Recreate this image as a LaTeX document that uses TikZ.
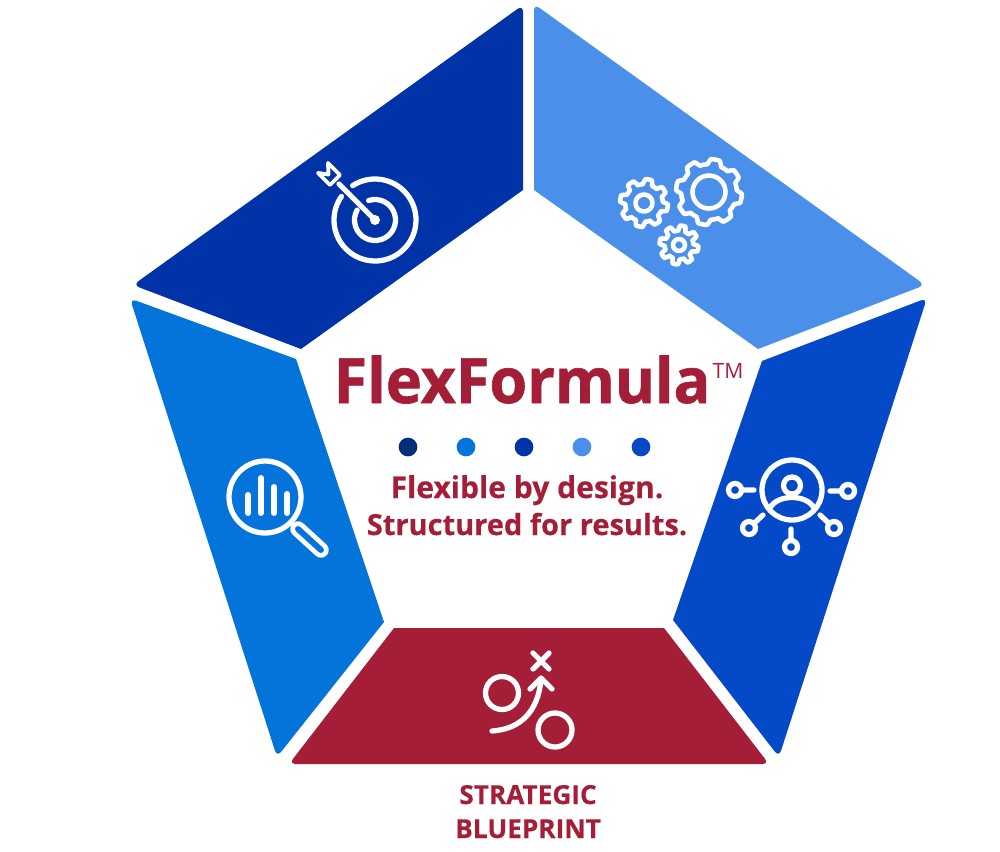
\documentclass[tikz,border=0pt]{standalone}
\usepackage{fontspec}
\usepackage{xcolor}
\usepackage{tikz}
\usetikzlibrary{calc}
\setmainfont{Open Sans}
\newfontfamily\titlefont[FakeStretch = 0.975, BoldFeatures = {FakeBold = 1}]{Open Sans}
\newfontfamily\bodyfont[BoldFeatures = {FakeBold = 0.35}]{Open Sans}
\definecolor{navydot}{HTML}{002E7A}
\definecolor{targetblue}{HTML}{0032A8}
\definecolor{gearblue}{HTML}{4A90EA}
\definecolor{peopleblue}{HTML}{0449C8}
\definecolor{searchblue}{HTML}{0474DB}
\definecolor{flexred}{HTML}{A51E38}
\tikzset{
 tipround/.style = {rounded corners = 1.9pt},
 icon/.style = {draw = white, line width = 1.5pt, line cap = round, line join = round},
 titletext/.style = {text = flexred, inner sep = 0pt, anchor = base},
 dot/.style = {circle, inner sep = 0pt, minimum size = 1.87mm},
}
\newcommand{\gearicon}[5]{
 \draw [icon, line width = 1.3pt, shift = {(#1, #2)}, domain = 0:360, samples = 241]
  plot ({(#3 - 2.6 + 2.6 * max(min(2.2 * sin(#5 * \x), 1), -1)) * cos(\x)},
        {(#3 - 2.6 + 2.6 * max(min(2.2 * sin(#5 * \x), 1), -1)) * sin(\x)}) -- cycle;
 \draw [icon, line width = 1.3pt] (#1, #2) circle (#4);
}
\begin{document}
\begin{tikzpicture}[x = 0.01cm, y = -0.01cm]
 \useasboundingbox (0, 0) rectangle (1000, 851);
 % wedges
 \fill [targetblue] (523, 190) -- (301, 349) [tipround] -- (133, 285) -- (523, 5) [sharp corners] -- cycle;
 \fill [gearblue] (534, 190) [tipround] -- (534, 4) -- (925, 285) [sharp corners] -- (758, 349) -- cycle;
 \fill [peopleblue] (762, 361) [tipround] -- (927, 298) -- (779, 757) [sharp corners] -- (673, 620) -- cycle;
 \fill [flexred] (394, 628) -- (664, 628) [tipround] -- (769, 764) -- (289, 764) [sharp corners] -- cycle;
 \fill [searchblue] (296, 359) -- (384, 622) [tipround] -- (277, 757) -- (130, 298.5) [sharp corners] -- cycle;
 % target
 \draw [icon] (375, 220) ++(237:41) arc (237:575:41);
 \draw [icon] (375, 220) ++(252:20.5) arc (252:569:20.5);
 \fill [white] (375, 220) circle (5);
 \draw [icon] (375, 220) -- (339, 184);
 \draw [icon, line width = 1.1pt] (328, 163) -- (340, 175) -- (330, 185) -- (318, 173) -- (328.5, 174.5) -- cycle;
 % gears
 \gearicon{709}{192}{33}{16.5}{8}
 \gearicon{644}{203}{24}{8.5}{8}
 \gearicon{679}{245}{19.5}{6}{8}
 % magnifier
 \draw [white, line width = 4.4pt, line cap = round] (298, 529) -- (321, 550);
 \draw [searchblue, line width = 1.7pt, line cap = round] (298, 529) -- (321, 550);
 \draw [icon] (265, 497) circle (36);
 \foreach \barx/\bartop in {248/495, 261/478, 274/487, 287/494}
  \draw [icon, line width = 1.7pt] (\barx, \bartop) -- (\barx, 513);
 % people
 \draw [icon] (792, 490) circle (30);
 \draw [icon] (792, 485.5) circle (8.5);
 \draw [icon] (770, 508) .. controls (777, 494) and (807, 494) .. (814, 508);
 \foreach \tipx/\tipy/\inx/\iny in {735/490/754/490, 848/491/830/491, 749/528/763/515, 834/528/820/515, 791/547/791/529}
  \draw [icon] (\tipx, \tipy) circle (6.5) (\inx, \iny) -- ($(\tipx, \tipy)!0.65mm!(\inx, \iny)$);
 % play
 \draw [icon] (533, 653) -- (549, 669) (549, 653) -- (533, 669);
 \draw [icon] (502, 693) circle (16.5);
 \draw [icon] (555, 730) circle (17);
 \draw [icon] (492, 731) .. controls (522, 729) and (538, 710) .. (541, 680);
 \draw [icon] (530, 689) -- (541, 678) -- (552, 689);
 % text
 \node [titletext, anchor = base west, font = \titlefont\bfseries\fontsize{17.8}{20}\selectfont] (title) at (333, 403) {FlexFormula};
 \node [titletext, anchor = base west, font = \fontsize{6}{7}\selectfont] (trademark) at (712, 378) {TM};
 \foreach \dotx/\dotcolor [count = \dotnum] in {408/navydot, 466/searchblue, 524/targetblue, 582/gearblue, 641/peopleblue}
  \node [dot, fill = \dotcolor] (dot\dotnum) at (\dotx, 447) {};
 \node [titletext, font = \bodyfont\bfseries\fontsize{8.55}{10}\selectfont] (lineone) at (527, 498) {Flexible by design.};
 \node [titletext, font = \bodyfont\bfseries\fontsize{8.25}{10}\selectfont] (linetwo) at (527, 535) {Structured for results.};
 \node [titletext, font = \bodyfont\bfseries\fontsize{7.45}{8}\selectfont] (wordone) at (528, 804) {STRATEGIC};
 \node [titletext, font = \bodyfont\bfseries\fontsize{7.45}{8}\selectfont] (wordtwo) at (528, 838) {BLUEPRINT};
\end{tikzpicture}
\end{document}
